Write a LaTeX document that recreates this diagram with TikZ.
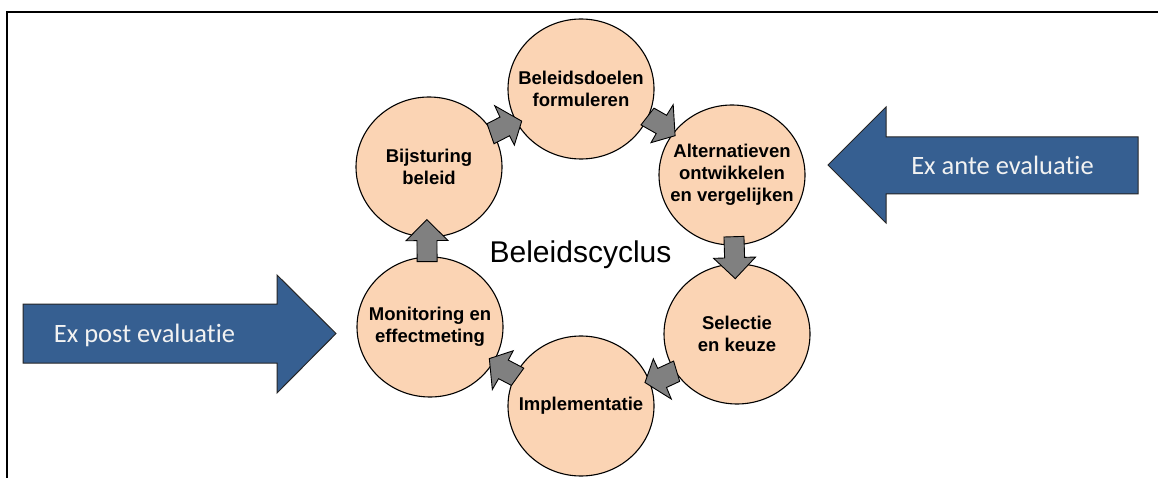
\documentclass[tikz,border=0pt]{standalone}
\usepackage{fontspec}
\setmainfont{Liberation Sans}
\newfontfamily\calfont[Ligatures=NoCommon]{Carlito}
\usetikzlibrary{shapes.geometric}
\definecolor{peach}{HTML}{FBD4B4}
\definecolor{darkblue}{HTML}{365F91}
\definecolor{arrowgray}{HTML}{808080}
\definecolor{lighttext}{HTML}{F2F2F2}
\tikzset{
  stage/.style={ellipse, draw=black, line width=1.1pt, fill=peach,
    minimum width=146pt, minimum height=140pt, inner sep=0pt},
  stagetext/.style={align=center, inner sep=0pt,
    font=\fontsize{18.5}{22}\selectfont\bfseries},
  grayarrow/.style={draw=black, line width=0.9pt, fill=arrowgray, line join=miter},
  bluearrow/.style={draw=black!85, line width=1pt, fill=darkblue, line join=miter},
  evaltext/.style={text=lighttext, font=\calfont\fontsize{26.5}{30}\selectfont, inner sep=0pt},
  titletext/.style={font=\fontsize{30}{34}\selectfont, inner sep=0pt},
  frameline/.style={draw=black, line width=1.5pt},
  onpath/.style={sloped, allow upside down},
  pics/varrow/.style={code={
    \path[grayarrow, shift={(0,#1)}] (-21,-10) -- (0,-10) -- (0,-21) -- (21,0)
      -- (0,21) -- (0,10) -- (-21,10) -- cycle;}},
  pics/varrow/.default=0,
  pics/darrow/.style={code={
    \path[grayarrow, shift={(0,#1)}] (-14,-15.5) -- (0.5,-15.5) -- (1,-28) -- (18,-2)
      -- (0.5,16) -- (0.5,5.5) -- (-17,5.5) -- cycle;}},
  pics/darrow/.default=0,
}
\begin{document}
\begin{tikzpicture}[x=1pt,y=-1pt]
\useasboundingbox (0,0) rectangle (1158,478);
% frame (cropped box)
\coordinate (frBL) at (7,478);
\coordinate (frTL) at (7,12);
\coordinate (frTR) at (1158,12);
\draw[frameline] (frBL) -- (frTL) -- (frTR);

% cycle stages
\node[stage] (A) at (581,89) {};
\node[stage] (B) at (732,175) {};
\node[stage] (C) at (737,334) {};
\node[stage] (D) at (581,406) {};
\node[stage] (E) at (430,327) {};
\node[stage] (F) at (429,167) {};
\node[stagetext] (At) at (A.center) {Beleidsdoelen\\formuleren};
\node[stagetext] (Bt) at (B.center) {Alternatieven\\ontwikkelen\\en vergelijken};
\node[stagetext] (Ct) at (C.center) {Selectie\\en keuze};
\node[stagetext] (Dt) at (D.center) {Implementatie};
\node[stagetext] (Et) at (E.center) {Monitoring en\\effectmeting};
\node[stagetext] (Ft) at (F.center) {Bijsturing\\beleid};

% cycle arrows
\path (F.center) -- (A.center) pic[pos=0.5, onpath]{darrow=3.5};
\path (A.center) -- (B.center) pic[pos=0.5, onpath]{darrow=-4};
\path (B.center) -- (C.center) pic[pos=0.52, onpath]{varrow=0};
\path (C.center) -- (D.center) pic[pos=0.5, onpath]{darrow=-3.5};
\path (D.center) -- (E.center) pic[pos=0.5, onpath]{darrow=1.5};
\path (E.center) -- (F.center) pic[pos=0.54, onpath]{varrow=-2.5};

% title
\node[titletext, anchor=base] (title) at (580.5,262) {Beleidscyclus};

% ex ante arrow
\path[bluearrow] (1138,137) -- (886,137) -- (886,107) -- (828,165) -- (886,223)
  -- (886,194) -- (1138,194) -- cycle;
\node[evaltext] (exante) at (1002.5,165) {Ex ante evaluatie};

% ex post arrow
\path[bluearrow] (23,304) -- (277,304) -- (277,275) -- (336,333.5) -- (277,393)
  -- (277,363) -- (23,363) -- cycle;
\node[evaltext] (expost) at (144.5,335) {Ex post evaluatie};
\end{tikzpicture}
\end{document}
